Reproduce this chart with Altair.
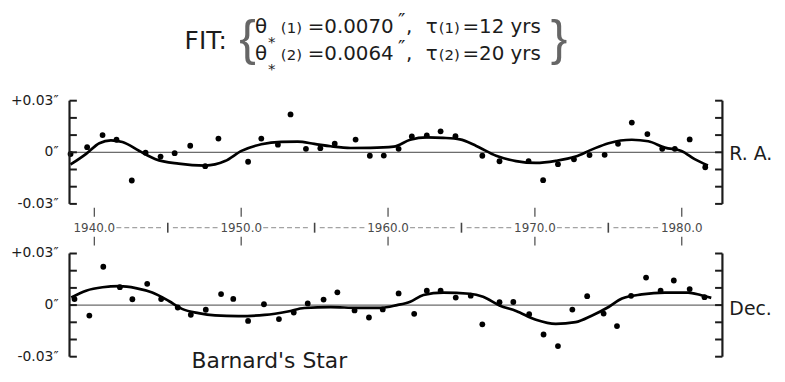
import altair as alt
import pandas as pd

# ---------------- data ----------------
ra_year = [1938.38, 1939.51, 1940.56, 1941.51, 1942.55, 1943.49, 1944.51, 1945.47, 1946.53, 1947.55,
           1948.45, 1950.47, 1951.37, 1952.5, 1953.36, 1954.41, 1955.39, 1956.37, 1957.79, 1958.76,
           1959.71, 1960.72, 1961.62, 1962.64, 1963.58, 1964.59, 1966.42, 1967.59, 1969.57, 1970.56,
           1971.57, 1972.66, 1973.72, 1974.75, 1975.66, 1976.6, 1977.66, 1978.67, 1979.53, 1980.54,
           1981.6]
ra_val = [-0.001, 0.003, 0.010, 0.0073, -0.0164, -0.0002, -0.0025, -0.0005, 0.0038, -0.0081,
          0.008, -0.0055, 0.008, 0.0044, 0.022, 0.002, 0.0024, 0.005, 0.0074, -0.002,
          -0.0019, 0.002, 0.0092, 0.0098, 0.0122, 0.0094, -0.002, -0.0052, -0.0051, -0.0162,
          -0.0069, -0.0041, -0.0016, -0.0015, 0.0049, 0.0173, 0.0106, 0.002, 0.002, 0.0075,
          -0.0087]

ra_fit_year = [1938.38, 1939.44, 1940.34, 1941.13, 1941.91, 1943.04, 1944.17, 1945.74, 1947.55, 1948.9,
               1950.02, 1951.37, 1952.72, 1953.85, 1954.98, 1956.1, 1957.45, 1958.8, 1960.39, 1961.51,
               1962.64, 1963.76, 1964.89, 1966.01, 1967.36, 1968.72, 1970.07, 1971.42, 1972.77, 1973.9,
               1975.02, 1976.6, 1977.72, 1978.85, 1979.98, 1980.88, 1981.78]
ra_fit_val = [-0.0071, -0.0009, 0.0053, 0.0069, 0.006, 0.0009, -0.004, -0.0066, -0.0077, -0.0051,
              0.0008, 0.0047, 0.0061, 0.0062, 0.0049, 0.0035, 0.0025, 0.0026, 0.0033, 0.0073,
              0.0087, 0.0084, 0.0075, 0.0037, -0.002, -0.0051, -0.0062, -0.005, -0.0025, 0.0017,
              0.0053, 0.0073, 0.0064, 0.0027, 0.0008, -0.004, -0.0077]

dec_year = [1938.65, 1939.66, 1940.61, 1941.74, 1942.59, 1943.6, 1944.55, 1945.68, 1946.57, 1947.59,
            1948.63, 1949.46, 1950.47, 1951.55, 1952.57, 1953.58, 1954.53, 1955.61, 1956.55, 1957.72,
            1958.7, 1959.64, 1960.72, 1961.78, 1962.64, 1963.58, 1964.61, 1965.63, 1966.42, 1967.59,
            1968.53, 1969.61, 1970.59, 1971.57, 1972.55, 1973.56, 1974.68, 1975.59, 1976.55, 1977.57,
            1978.56, 1979.46, 1980.54, 1981.55]
dec_val = [0.0035, -0.0061, 0.0223, 0.0104, 0.0034, 0.0124, 0.0035, -0.0014, -0.0056, -0.0027,
           0.0064, 0.0036, -0.0092, 0.0005, -0.0081, -0.0043, 0.001, 0.0032, 0.0074, -0.0031,
           -0.0072, -0.0025, 0.0068, -0.0051, 0.0084, 0.0084, 0.0044, 0.0055, -0.0112, 0.0017,
           0.0018, -0.0053, -0.0171, -0.0238, -0.0026, 0.0052, -0.0049, -0.0122, 0.0054, 0.016,
           0.0084, 0.0143, 0.0093, 0.0046]

dec_fit_year = [1938.43, 1939.44, 1940.56, 1941.69, 1942.82, 1943.94, 1945.07, 1945.97, 1947.09, 1948.22,
                1949.8, 1951.6, 1953.18, 1954.3, 1956.1, 1957.91, 1959.48, 1960.61, 1961.51, 1962.41,
                1963.76, 1965.56, 1966.47, 1967.59, 1968.72, 1970.07, 1971.42, 1972.77, 1973.9, 1975.02,
                1975.93, 1977.28, 1978.85, 1980.43, 1981.33, 1982.01]
dec_fit_val = [0.0044, 0.0084, 0.0104, 0.011, 0.0099, 0.0073, 0.0024, -0.0022, -0.0047, -0.006,
               -0.0064, -0.0057, -0.0037, -0.0017, -0.0012, -0.0016, -0.0016, 0.0, 0.002, 0.0059,
               0.0073, 0.0066, 0.0048, -0.0002, -0.0034, -0.0085, -0.0109, -0.0099, -0.006, -0.0011,
               0.0038, 0.0062, 0.0073, 0.0073, 0.0057, 0.0042]

decade_ticks = [1940, 1950, 1960, 1970, 1980]
decade_labels = ["1940.0", "1950.0", "1960.0", "1970.0", "1980.0"]
half_ticks = [1945, 1955, 1965, 1975]
y_ticks = [-0.03, -0.02, -0.01, 0.0, 0.01, 0.02, 0.03]
y_label_vals = [0.03, 0.0, -0.03]
y_label_text = ["+0.03\u2033", "0\u2033", "-0.03\u2033"]

# ---------------- styling / layout ----------------
X0, X1 = 1938.31, 1982.77
TICK = 0.5
FONT = "DejaVu Sans"
INK = "#1c1c1c"

xs = alt.Scale(domain=[X0, X1], nice=False, zero=False)


def XF(field="x"):
    return alt.X(f"{field}:Q", scale=xs, axis=None)


def panel(obs_y, obs_v, fit_y, fit_v, y_range, side_label, side_dy):
    ys = alt.Scale(domain=[-0.03, 0.03], range=y_range, nice=False, zero=False)

    def YF(f="y"):
        return alt.Y(f"{f}:Q", scale=ys, axis=None)

    obs = pd.DataFrame({"x": obs_y, "y": obs_v})
    fit = pd.DataFrame({"x": fit_y, "y": fit_v})

    zero = alt.Chart(pd.DataFrame({"x": [X0], "x2": [X1], "y": [0.0]})).mark_rule(
        color="#444", strokeWidth=1.0).encode(x=XF(), x2="x2:Q", y=YF())

    fit_line = alt.Chart(fit).mark_line(color="black", strokeWidth=2.7, interpolate="monotone").encode(
        x=XF(), y=YF())

    pts = alt.Chart(obs).mark_circle(color="black", size=34, opacity=1).encode(x=XF(), y=YF())

    spine = alt.Chart(pd.DataFrame({"x": [X0, X1], "y": [-0.03, -0.03], "y2": [0.03, 0.03]})).mark_rule(
        color=INK, strokeWidth=2.2).encode(x=XF(), y=YF(), y2="y2:Q")

    tick_rows = pd.DataFrame({
        "x": [X0] * len(y_ticks) + [X1 - TICK] * len(y_ticks),
        "x2": [X0 + TICK] * len(y_ticks) + [X1] * len(y_ticks),
        "y": y_ticks + y_ticks,
    })
    ticks = alt.Chart(tick_rows).mark_rule(color=INK, strokeWidth=2).encode(x=XF(), x2="x2:Q", y=YF())

    lab = alt.Chart(pd.DataFrame({"x": [X0] * 3, "y": y_label_vals, "t": y_label_text})).mark_text(
        align="right", baseline="middle", dx=-11, font=FONT, fontSize=14, color=INK).encode(
        x=XF(), y=YF(), text="t:N")

    side = alt.Chart(pd.DataFrame({"x": [X1], "y": [0.0], "t": [side_label]})).mark_text(
        align="left", baseline="middle", dx=7, dy=side_dy, font=FONT, fontSize=19, color=INK).encode(
        x=XF(), y=YF(), text="t:N")

    return alt.layer(zero, fit_line, pts, spine, ticks, lab, side)


top = panel(ra_year, ra_val, ra_fit_year, ra_fit_val, [196, 92], "R. A.", 2)
bottom = panel(dec_year, dec_val, dec_fit_year, dec_fit_val, [350, 246], "Dec.", 4)

# ---------------- time axis between the panels ----------------
tl_labels = alt.Chart(pd.DataFrame({"x": decade_ticks, "t": decade_labels})).mark_text(
    font=FONT, fontSize=12, color="#4a4a4a", baseline="middle").encode(
    x=XF(), y=alt.value(220), text="t:N")
tl_up = alt.Chart(pd.DataFrame({"x": decade_ticks})).mark_rule(color="#555", strokeWidth=1.3).encode(
    x=XF(), y=alt.value(200), y2=alt.value(209))
tl_dn = alt.Chart(pd.DataFrame({"x": decade_ticks})).mark_rule(color="#555", strokeWidth=1.3).encode(
    x=XF(), y=alt.value(229), y2=alt.value(238))
tl_half = alt.Chart(pd.DataFrame({"x": half_ticks})).mark_rule(color="#444", strokeWidth=1.6).encode(
    x=XF(), y=alt.value(215), y2=alt.value(225))
seg_start, seg_end = [], []
for d in decade_ticks[:-1]:
    seg_start += [d + 1.5, d + 5.35]
    seg_end += [d + 4.65, d + 8.5]
tl_dash = alt.Chart(pd.DataFrame({"x": seg_start, "x2": seg_end})).mark_rule(
    color="#8a8a8a", strokeWidth=1, strokeDash=[5, 3]).encode(x=XF(), x2="x2:Q", y=alt.value(220))


# ---------------- title & caption ----------------
def txt(s, x, y, size, family=FONT, color=INK, weight="normal"):
    return alt.Chart(pd.DataFrame({"t": [s]})).mark_text(
        align="left", baseline="alphabetic", font=family, fontSize=size, color=color,
        fontWeight=weight).encode(x=alt.value(x), y=alt.value(y), text="t:N")


title = [
    txt("FIT:", 116, 40, 25),
    txt("{", 171, 46, 50, family="Liberation Sans", color="#666"),
    txt("}", 485, 46, 50, family="Liberation Sans", color="#666"),
]
for base, idx, val, tau in [(24, "(1)", "=0.0070", "=12 yrs"), (51, "(2)", "=0.0064", "=20 yrs")]:
    title += [
        txt("\u03b8", 187, base, 20),
        txt("*", 200, base + 14, 15),
        txt(idx, 213, base, 15),
        txt(val, 240, base, 20),
        txt("\u2033", 331, base - 6, 20),
        txt(",", 339, base, 20),
        txt("\u03c4", 359, base, 20),
        txt(idx, 372, base, 15),
        txt(tau, 396, base, 20),
    ]

caption = txt("Barnard's Star", 123, 361, 22)

chart = alt.layer(
    top, bottom, tl_dash, tl_half, tl_up, tl_dn, tl_labels, *title, caption
).resolve_scale(y="independent").properties(
    width=658, height=364,
    padding={"left": 62, "right": 55, "top": 0, "bottom": 0},
    autosize="none",
).configure_view(stroke=None)

chart.save("out.html", embed_options={"renderer": "svg", "actions": False})
